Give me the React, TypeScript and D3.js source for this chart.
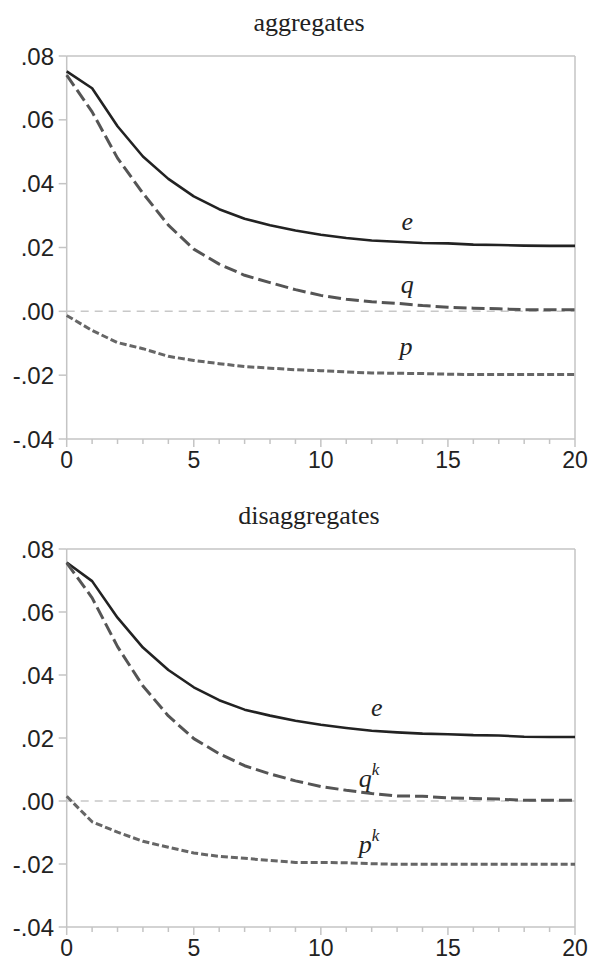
import React from 'react'
import * as d3 from 'd3'

// horizon 0..20
const periods = d3.range(0, 21)

// aggregates panel
const eAgg = [0.0752, 0.0699, 0.058, 0.0485, 0.0415, 0.036, 0.032, 0.029, 0.027, 0.0253, 0.024, 0.023, 0.0222, 0.0218, 0.0214, 0.0213, 0.0209, 0.0208, 0.0206, 0.0205, 0.0205]
const qAgg = [0.074, 0.0625, 0.048, 0.037, 0.027, 0.0195, 0.0148, 0.0113, 0.009, 0.0068, 0.005, 0.0038, 0.003, 0.0025, 0.0018, 0.0013, 0.001, 0.0008, 0.0005, 0.0005, 0.0005]
const pAgg = [-0.0013, -0.006, -0.0098, -0.0117, -0.0141, -0.0154, -0.0164, -0.0173, -0.0178, -0.0183, -0.0186, -0.019, -0.0193, -0.0194, -0.0195, -0.0197, -0.0198, -0.0198, -0.0198, -0.0198, -0.0198]

// disaggregates panel
const eDis = [0.0757, 0.0698, 0.0582, 0.0487, 0.0416, 0.0361, 0.032, 0.029, 0.0271, 0.0255, 0.0242, 0.0232, 0.0223, 0.0218, 0.0214, 0.0212, 0.0209, 0.0208, 0.0204, 0.0203, 0.0203]
const qDis = [0.0756, 0.0645, 0.049, 0.0365, 0.027, 0.0198, 0.015, 0.0112, 0.0086, 0.0064, 0.0046, 0.0034, 0.0024, 0.0016, 0.0015, 0.001, 0.0008, 0.0006, 0.0002, 0.0002, 0.0002]
const pDis = [0.0015, -0.0066, -0.0099, -0.0128, -0.0147, -0.0165, -0.0176, -0.0182, -0.0189, -0.0195, -0.0195, -0.0196, -0.0199, -0.0201, -0.0201, -0.0201, -0.0201, -0.0201, -0.0201, -0.0201, -0.0201]

const yTicks = [0.08, 0.06, 0.04, 0.02, 0, -0.02, -0.04]
const yTickLabels = ['.08', '.06', '.04', '.02', '.00', '-.02', '-.04']
const xMajor = [0, 5, 10, 15, 20]

const titles = ['aggregates', 'disaggregates']
// curve labels: [period, value, text, superscript]
const aggLabels: [number, number, string, string][] = [
  [13.4, 0.0255, 'e', ''],
  [13.4, 0.0056, 'q', ''],
  [13.35, -0.0138, 'p', ''],
]
const disLabels: [number, number, string, string][] = [
  [12.2, 0.027, 'e', ''],
  [11.9, 0.0046, 'q', 'k'],
  [11.9, -0.0164, 'p', 'k'],
]

const W = 589
const H = 964
const left = 66.7
const right = 575

const sans = "'Liberation Sans', Arial, sans-serif"
const serif = "'Liberation Serif', 'Times New Roman', serif"

type Series = { values: number[]; dash: string | null; color: string; width: number }

function Panel({ top, bottom, title, series, labels }: {
  top: number
  bottom: number
  title: string
  series: Series[]
  labels: [number, number, string, string][]
}) {
  const x = d3.scaleLinear().domain([0, 20]).range([left, right])
  const y = d3.scaleLinear().domain([-0.04, 0.08]).range([bottom, top])
  const line = d3.line<number>().x((_, i) => x(periods[i])).y(d => y(d))
  const axisColor = '#c4c4c4'

  return (
    <g>
      <text x={309} y={top - 25} textAnchor="middle" fontFamily={serif} fontSize={26} fill="#222">{title}</text>
      {/* frame */}
      <line x1={left} x2={right} y1={top} y2={top} stroke={axisColor} strokeWidth={1.5} />
      <line x1={right} x2={right} y1={top} y2={bottom} stroke={axisColor} strokeWidth={1.5} />
      <line x1={left} x2={left} y1={top} y2={bottom} stroke={axisColor} strokeWidth={1.5} />
      <line x1={left} x2={right} y1={bottom} y2={bottom} stroke={axisColor} strokeWidth={1.5} />
      {/* zero line */}
      <line x1={left} x2={right} y1={y(0)} y2={y(0)} stroke="#c8c8c8" strokeWidth={1.5} strokeDasharray="8,6" />
      {yTicks.map((t, i) => (
        <g key={t}>
          <line x1={left - 8} x2={left} y1={y(t)} y2={y(t)} stroke={axisColor} strokeWidth={1.5} />
          <text x={54} y={y(t) + 8.5} textAnchor="end" fontFamily={sans} fontSize={24} fill="#222">{yTickLabels[i]}</text>
        </g>
      ))}
      {periods.map(p => (
        <line key={p} x1={x(p)} x2={x(p)} y1={bottom} y2={bottom + (p % 5 === 0 ? 8 : 5)} stroke={axisColor} strokeWidth={1.5} />
      ))}
      {xMajor.map(p => (
        <text key={p} x={x(p)} y={bottom + 29} textAnchor="middle" fontFamily={sans} fontSize={23} fill="#222">{p}</text>
      ))}
      {series.map((s, i) => (
        <path key={i} d={line(s.values) || ''} fill="none" stroke={s.color} strokeWidth={s.width}
          strokeDasharray={s.dash || undefined} strokeLinejoin="round" />
      ))}
      {labels.map(([px, v, t, sup]) => (
        <text key={t} x={x(px)} y={y(v)} textAnchor="middle" fontFamily={serif}
          fontStyle="italic" fontSize={26} fill="#222">
          {t}
          {sup ? <tspan fontSize={17} dy={-12}>{sup}</tspan> : null}
        </text>
      ))}
    </g>
  )
}

export default function App() {
  return (
    <svg width={W} height={H} style={{ position: 'absolute', left: 0, top: 0, background: '#fff' }}>
      <rect width={W} height={H} fill="#fff" />
      <Panel top={56} bottom={439} title={titles[0]} labels={aggLabels} series={[
        { values: eAgg, dash: null, color: '#222', width: 2.6 },
        { values: qAgg, dash: '13,5', color: '#555', width: 3 },
        { values: pAgg, dash: '7,3', color: '#666', width: 3 },
      ]} />
      <Panel top={549} bottom={927} title={titles[1]} labels={disLabels} series={[
        { values: eDis, dash: null, color: '#222', width: 2.6 },
        { values: qDis, dash: '13,5', color: '#555', width: 3 },
        { values: pDis, dash: '7,3', color: '#666', width: 3 },
      ]} />
    </svg>
  )
}
